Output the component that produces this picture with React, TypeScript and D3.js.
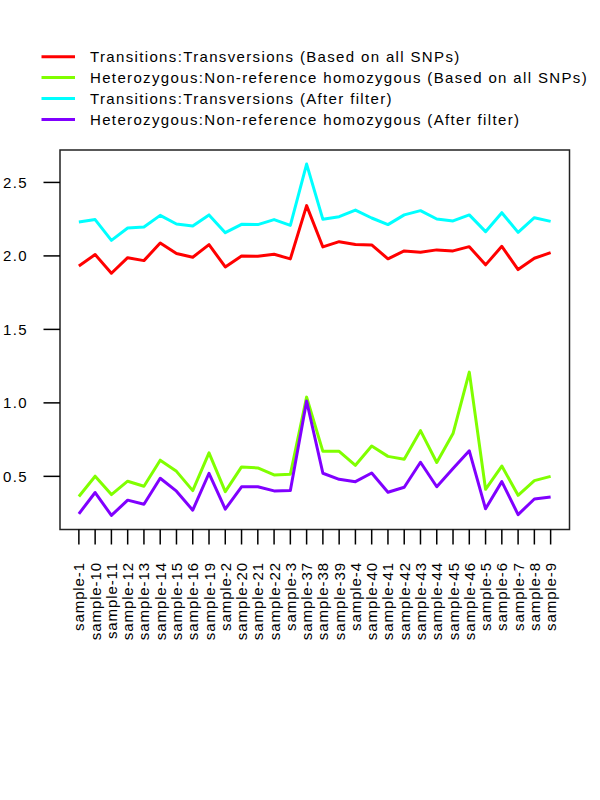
import React from "react"
import * as d3 from "d3"

const samples = [
  "sample-1", "sample-10", "sample-11", "sample-12", "sample-13", "sample-14", "sample-15",
  "sample-16", "sample-19", "sample-2", "sample-20", "sample-21", "sample-22", "sample-3",
  "sample-37", "sample-38", "sample-39", "sample-4", "sample-40", "sample-41", "sample-42",
  "sample-43", "sample-44", "sample-45", "sample-46", "sample-5", "sample-6", "sample-7",
  "sample-8", "sample-9",
]

const tsTvAll = [
  1.932, 2.009, 1.882, 1.988, 1.968, 2.088, 2.016, 1.991, 2.077, 1.925, 2.0, 1.998, 2.011, 1.98,
  2.342, 2.061, 2.097, 2.077, 2.075, 1.98, 2.034, 2.025, 2.041, 2.034, 2.063, 1.939, 2.065, 1.907,
  1.984, 2.022,
]

const hetHomAll = [
  0.363, 0.501, 0.376, 0.467, 0.433, 0.61, 0.534, 0.403, 0.66, 0.396, 0.564, 0.557, 0.51, 0.514,
  1.039, 0.67, 0.67, 0.575, 0.706, 0.636, 0.616, 0.811, 0.594, 0.791, 1.209, 0.412, 0.57, 0.371,
  0.471, 0.5,
]

const tsTvFiltered = [
  2.231, 2.247, 2.106, 2.19, 2.197, 2.276, 2.217, 2.204, 2.279, 2.158, 2.215, 2.213, 2.247, 2.208,
  2.625, 2.249, 2.267, 2.312, 2.258, 2.213, 2.279, 2.308, 2.251, 2.238, 2.279, 2.165, 2.294, 2.16,
  2.26, 2.235,
]

const hetHomFiltered = [
  0.245, 0.39, 0.234, 0.338, 0.31, 0.487, 0.399, 0.27, 0.521, 0.277, 0.429, 0.429, 0.401, 0.404,
  1.013, 0.521, 0.48, 0.464, 0.523, 0.392, 0.426, 0.596, 0.429, 0.554, 0.674, 0.279, 0.464, 0.24,
  0.346, 0.36,
]

const yTicks = [0.5, 1.0, 1.5, 2.0, 2.5]

const series = [
  { name: "Transitions:Transversions (Based on all SNPs)", color: "#ff0000", values: tsTvAll },
  { name: "Heterozygous:Non-reference homozygous (Based on all SNPs)", color: "#80ff00", values: hetHomAll },
  { name: "Transitions:Transversions (After filter)", color: "#00ffff", values: tsTvFiltered },
  { name: "Heterozygous:Non-reference homozygous (After filter)", color: "#8000ff", values: hetHomFiltered },
]

const width = 600
const height = 800
const plot = { left: 60, right: 569.5, top: 150, bottom: 529.5 }
const font = "'Liberation Sans', Arial, sans-serif"

export default function App() {
  // R-style 4% padding on both axes
  const n = samples.length
  const padX = (n - 1) * 0.04
  const x = d3.scaleLinear().domain([-padX, n - 1 + padX]).range([plot.left, plot.right])

  const all = series.flatMap((s) => s.values)
  const [lo, hi] = d3.extent(all) as [number, number]
  const padY = (hi - lo) * 0.04
  const y = d3.scaleLinear().domain([lo - padY, hi + padY]).range([plot.bottom, plot.top])

  const line = d3
    .line<number>()
    .x((_, i) => x(i))
    .y((d) => y(d))

  return (
    <svg
      width={width}
      height={height}
      style={{ position: "absolute", left: 0, top: 0, background: "#fff" }}
      fontFamily={font}
    >
      {/* legend */}
      {series.map((s, i) => (
        <g key={s.name} transform={`translate(0,${56.7 + i * 20.9})`}>
          <line x1={41.5} x2={75} y1={0} y2={0} stroke={s.color} strokeWidth={3} />
          <text x={90} y={5.5} fontSize={15} letterSpacing={1.35} fill="#000">
            {s.name}
          </text>
        </g>
      ))}

      {/* series */}
      {series.map((s) => (
        <path
          key={s.name}
          d={line(s.values) || ""}
          fill="none"
          stroke={s.color}
          strokeWidth={3}
          strokeLinejoin="round"
        />
      ))}

      {/* frame */}
      <rect
        x={plot.left}
        y={plot.top}
        width={plot.right - plot.left}
        height={plot.bottom - plot.top}
        fill="none"
        stroke="#222"
        strokeWidth={1.5}
      />

      {/* y axis */}
      {yTicks.map((t) => (
        <g key={t}>
          <line x1={43.5} x2={plot.left} y1={y(t)} y2={y(t)} stroke="#000" strokeWidth={1.5} />
          <text x={28} y={y(t) + 5.5} fontSize={15} letterSpacing={1.35} textAnchor="end" fill="#000">
            {t.toFixed(1)}
          </text>
        </g>
      ))}

      {/* x axis */}
      {samples.map((s, i) => (
        <g key={s}>
          <line x1={x(i)} x2={x(i)} y1={plot.bottom} y2={544.5} stroke="#000" strokeWidth={1.5} />
          <text
            transform={`translate(${x(i) + 5.5},562) rotate(-90)`}
            fontSize={15}
            letterSpacing={0.9}
            textAnchor="end"
            fill="#000"
          >
            {s}
          </text>
        </g>
      ))}
    </svg>
  )
}
